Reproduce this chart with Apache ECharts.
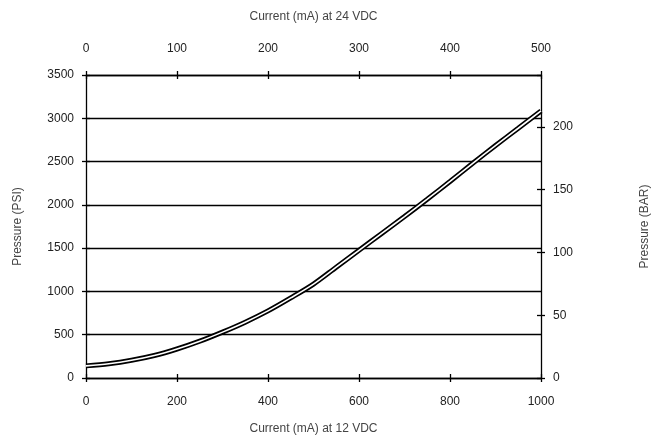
<!DOCTYPE html>
<html><head><meta charset="utf-8">
<script src="https://cdn.jsdelivr.net/npm/echarts@6/dist/echarts.min.js"></script>
<style>html,body{margin:0;padding:0;background:#fff}#c{width:655px;height:443px}</style>
</head><body><div id="c"></div>
<script>
var currentMa12 = [0,50,100,150,200,250,300,350,400,450,500,550,600,650,700,750,800,850,900,950,1000];
var pressurePsi = [140,165,205,260,335,425,530,645,775,925,1085,1280,1475,1670,1865,2065,2270,2480,2685,2885,3085];
var bottomTicks = [0,200,400,600,800,1000];
var topTicks = [0,100,200,300,400,500];
var psiTicks = [0,500,1000,1500,2000,2500,3000,3500];
var barTicks = [0,50,100,150,200];
var PSI_PER_BAR = 14.5038;

var pts = currentMa12.map(function(x,i){return [x, pressurePsi[i]];});
var font = 'Liberation Sans, Arial, sans-serif';
function plain(v){ return String(Math.round(v)); }
var lbl = {color:'#222', fontSize:12, fontFamily:font, formatter:plain};
var nm = {color:'#444', fontSize:12, fontFamily:font};
var line = {show:true, onZero:false, lineStyle:{color:'#000', width:1.3}};
var tick = {show:true, length:4, lineStyle:{color:'#000', width:1.3}};

function hiddenAxis(pos, min, max, interval){
  return {type:'value', position:pos, min:min, max:max, interval:interval,
    axisLine:{show:false, onZero:false}, axisLabel:{show:false}, splitLine:{show:false},
    axisTick:{show:true, inside:true, length:4, lineStyle:{color:'#000', width:1.3}}};
}

var chart = echarts.init(document.getElementById('c'));
chart.setOption({
  animation:false,
  grid:{left:86, right:114, top:75, bottom:65, containLabel:false, outerBoundsMode:'none'},
  xAxis:[
    {type:'value', position:'bottom', min:0, max:1000, interval:200,
     name:'Current (mA) at 12 VDC', nameLocation:'middle', nameGap:45, nameTextStyle:nm,
     axisLine:line, axisTick:tick,
     axisLabel:Object.assign({margin:18}, lbl), splitLine:{show:false}},
    {type:'value', position:'top', min:0, max:500, interval:100,
     name:'Current (mA) at 24 VDC', nameLocation:'middle', nameGap:52, nameTextStyle:nm,
     axisLine:line, axisTick:tick,
     axisLabel:Object.assign({margin:20}, lbl), splitLine:{show:false}},
    hiddenAxis('bottom',0,1000,200),
    hiddenAxis('top',0,500,100)
  ],
  yAxis:[
    {type:'value', position:'left', min:0, max:3500, interval:500,
     name:'Pressure (PSI)', nameLocation:'middle', nameGap:62, nameTextStyle:nm,
     axisLine:line, axisTick:tick,
     axisLabel:Object.assign({margin:12}, lbl),
     splitLine:{show:true, lineStyle:{color:'#000', width:1.3}}},
    {type:'value', position:'right', min:0, max:3500/PSI_PER_BAR, interval:50,
     name:'Pressure (BAR)', nameLocation:'middle', nameGap:98, nameTextStyle:nm,
     axisLine:line, axisTick:tick,
     axisLabel:Object.assign({margin:12, showMaxLabel:false}, lbl), splitLine:{show:false}},
    hiddenAxis('left',0,3500,500),
    hiddenAxis('right',0,3500/PSI_PER_BAR,50)
  ],
  series:[
    {type:'line', data:pts, smooth:0.3, showSymbol:false, xAxisIndex:0, yAxisIndex:0,
     lineStyle:{color:'#000', width:5}, z:3},
    {type:'line', data:pts, smooth:0.3, showSymbol:false, xAxisIndex:0, yAxisIndex:0,
     lineStyle:{color:'#fff', width:1.6}, z:4}
  ]
});
</script></body></html>
